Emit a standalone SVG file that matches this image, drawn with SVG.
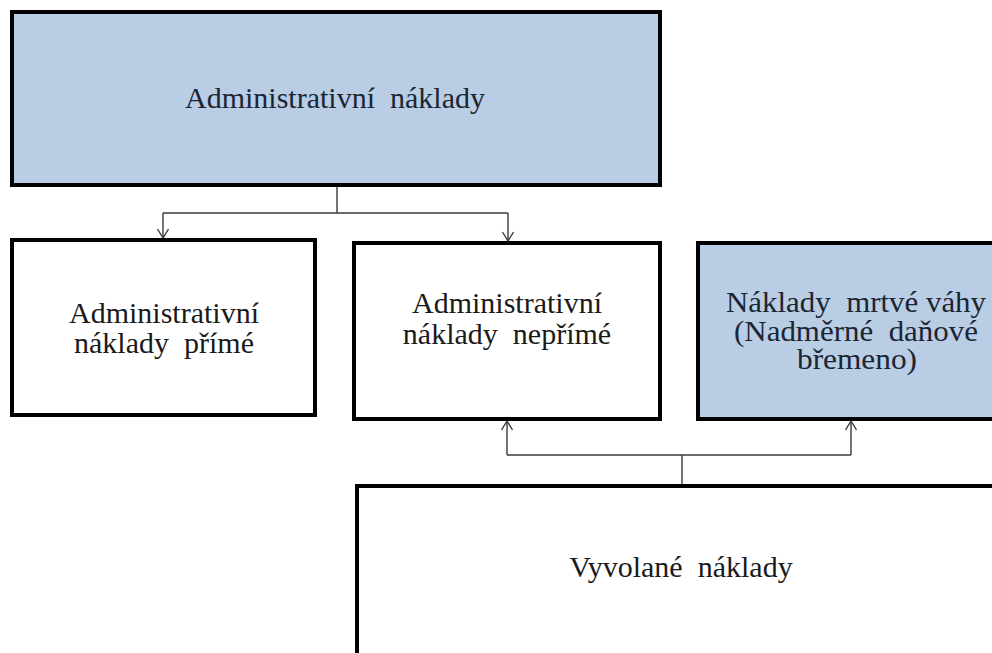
<svg xmlns="http://www.w3.org/2000/svg" width="992" height="653" viewBox="0 0 992 653">
<style>
.box{stroke:#000;stroke-width:4}
.blue{fill:#b9cde5}
.white{fill:#fff}
.t{font-family:"Liberation Serif","Times New Roman",serif;font-size:30px;fill:#1a1a1a;text-anchor:middle;white-space:pre}
.tb{fill:#1b2633}
.c{fill:none;stroke:#3a3a3a;stroke-width:1.4}
</style>
<defs>
<marker id="arr" markerUnits="userSpaceOnUse" markerWidth="14" markerHeight="14" refX="10" refY="6" orient="auto">
<path d="M1,0.5 L10,6 L1,11.5" fill="none" stroke="#3a3a3a" stroke-width="1.4"/>
</marker>
</defs>
<rect width="992" height="653" fill="#fff"/>
<g id="connectors">
<path class="c" d="M337,186 V213"/>
<path class="c" d="M163,213 H508"/>
<path class="c" d="M163,213 V238" marker-end="url(#arr)"/>
<path class="c" d="M508,213 V241" marker-end="url(#arr)"/>
<path class="c" d="M682,484 V455"/>
<path class="c" d="M507,455 H851"/>
<path class="c" d="M507,455 V421" marker-end="url(#arr)"/>
<path class="c" d="M851,455 V421" marker-end="url(#arr)"/>
</g>
<g id="admin">
<rect class="box blue" x="12" y="12" width="648" height="173"/>
<text class="t tb" x="335" y="108">Administrativní  náklady</text>
</g>
<g id="prime">
<rect class="box white" x="12" y="240" width="303" height="175"/>
<text class="t" x="164" y="323">Administrativní</text>
<text class="t" x="164" y="353">náklady  přímé</text>
</g>
<g id="neprime">
<rect class="box white" x="354" y="243" width="306" height="176"/>
<text class="t" x="507" y="313">Administrativní</text>
<text class="t" x="507" y="344">náklady  nepřímé</text>
</g>
<g id="mrtve">
<rect class="box blue" x="698" y="243" width="320" height="176"/>
<text class="t tb" x="856" y="312" textLength="260" lengthAdjust="spacingAndGlyphs">Náklady  mrtvé váhy</text>
<text class="t tb" x="856" y="341" textLength="244" lengthAdjust="spacingAndGlyphs">(Nadměrné  daňové</text>
<text class="t tb" x="857" y="369" textLength="120" lengthAdjust="spacingAndGlyphs">břemeno)</text>
</g>
<g id="vyvolane">
<rect class="box white" x="357" y="486" width="660" height="200"/>
<text class="t" x="681" y="577" font-size="29">Vyvolané  náklady</text>
</g>
</svg>
